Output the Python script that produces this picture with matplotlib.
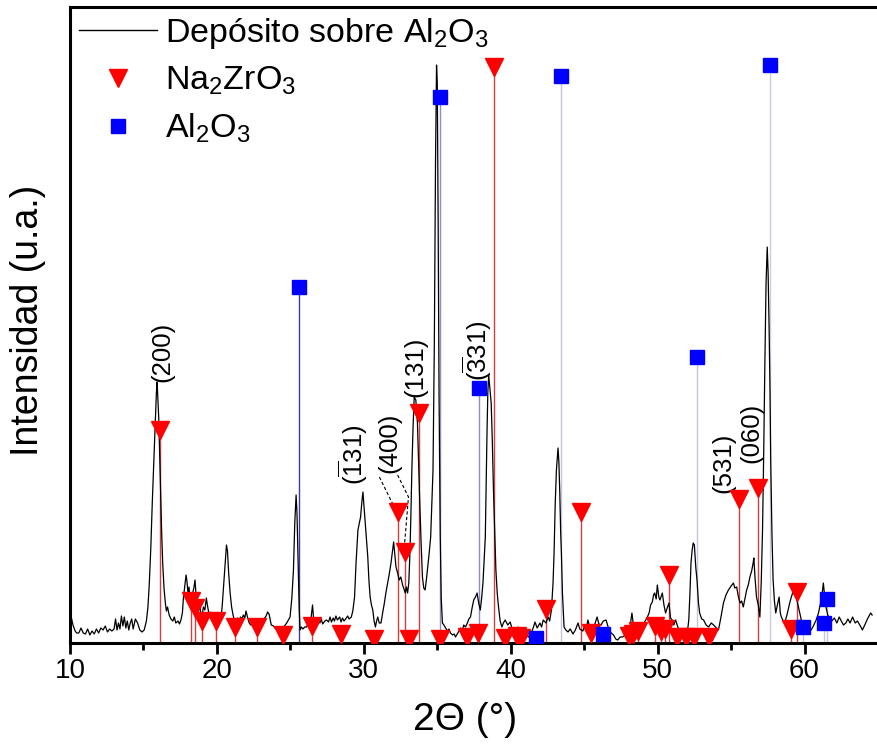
import matplotlib
matplotlib.use("Agg")
import matplotlib.pyplot as plt
from matplotlib.lines import Line2D

plt.rcParams['font.family'] = ['Liberation Sans', 'DejaVu Sans']
plt.rcParams['mathtext.default'] = 'regular'

# ---------------- data (2theta in degrees, intensity in arbitrary units) ----------------
two_theta = [
    10.0, 10.1, 10.2, 10.35, 10.45, 10.6, 10.75, 10.9, 11.05, 11.2, 11.35, 11.5, 11.65, 11.8, 11.95,
    12.1, 12.25, 12.4, 12.55, 12.7, 12.85, 13.0, 13.1, 13.2, 13.3, 13.4, 13.5, 13.6, 13.7, 13.8, 13.9,
    14.0, 14.1, 14.2, 14.3, 14.45, 14.6, 14.75, 14.9, 15.05, 15.2, 15.3, 15.4, 15.5, 15.6, 15.7, 15.8,
    15.88, 15.93, 15.98, 16.04, 16.1, 16.17, 16.24, 16.31, 16.4, 16.49, 16.56, 16.64, 16.75, 16.87,
    17.0, 17.1, 17.2, 17.35, 17.45, 17.55, 17.65, 17.72, 17.8, 17.9, 17.96, 18.03, 18.1, 18.18, 18.27,
    18.35, 18.43, 18.51, 18.58, 18.65, 18.74, 18.82, 18.9, 19.0, 19.08, 19.18, 19.28, 19.35, 19.45,
    19.57, 19.7, 19.8, 19.91, 20.05, 20.15, 20.25, 20.35, 20.47, 20.57, 20.65, 20.72, 20.8, 20.9,
    21.0, 21.1, 21.2, 21.3, 21.4, 21.5, 21.6, 21.7, 21.8, 21.9, 21.98, 22.08, 22.2, 22.3, 22.45, 22.6,
    22.73, 22.85, 23.0, 23.1, 23.2, 23.35, 23.45, 23.55, 23.7, 23.85, 24.0, 24.15, 24.3, 24.45, 24.6,
    24.75, 24.9, 24.98, 25.1, 25.21, 25.3, 25.39, 25.45, 25.54, 25.6, 25.66, 25.75, 25.85, 25.98,
    26.11, 26.2, 26.3, 26.4, 26.51, 26.58, 26.67, 26.8, 26.9, 27.01, 27.1, 27.2, 27.35, 27.46, 27.6,
    27.7, 27.8, 27.91, 28.0, 28.1, 28.2, 28.36, 28.45, 28.55, 28.65, 28.81, 28.9, 29.0, 29.15, 29.25,
    29.37, 29.47, 29.6, 29.7, 29.78, 29.86, 29.94, 30.02, 30.12, 30.2, 30.27, 30.35, 30.43, 30.52,
    30.61, 30.7, 30.79, 30.87, 30.95, 31.05, 31.17, 31.28, 31.4, 31.5, 31.62, 31.72, 31.85, 31.95,
    32.03, 32.11, 32.19, 32.3, 32.41, 32.52, 32.64, 32.73, 32.82, 32.9, 32.98, 33.06, 33.13, 33.2,
    33.27, 33.35, 33.43, 33.54, 33.65, 33.73, 33.81, 33.9, 33.99, 34.08, 34.17, 34.25, 34.33, 34.45,
    34.55, 34.63, 34.71, 34.8, 34.88, 34.95, 35.0, 35.06, 35.12, 35.2, 35.27, 35.35, 35.45, 35.57,
    35.7, 35.8, 35.9, 36.05, 36.15, 36.24, 36.4, 36.58, 36.7, 36.8, 36.92, 37.05, 37.15, 37.26, 37.37,
    37.48, 37.6, 37.71, 37.82, 37.93, 38.02, 38.11, 38.2, 38.27, 38.33, 38.38, 38.44, 38.5, 38.58,
    38.67, 38.75, 38.83, 38.91, 38.99, 39.08, 39.17, 39.28, 39.4, 39.5, 39.62, 39.8, 39.96, 40.1, 40.3,
    40.5, 40.75, 41.0, 41.2, 41.4, 41.55, 41.65, 41.8, 41.99, 42.1, 42.21, 42.4, 42.55, 42.65, 42.77,
    42.88, 42.95, 43.03, 43.11, 43.22, 43.28, 43.34, 43.4, 43.45, 43.52, 43.63, 43.75, 43.9, 44.05,
    44.24, 44.4, 44.58, 44.7, 44.91, 45.05, 45.15, 45.25, 45.38, 45.48, 45.6, 45.75, 45.88, 46.0,
    46.15, 46.3, 46.49, 46.65, 46.83, 47.0, 47.15, 47.28, 47.45, 47.62, 47.8, 47.95, 48.1, 48.25,
    48.35, 48.52, 48.7, 48.86, 49.0, 49.19, 49.3, 49.42, 49.52, 49.64, 49.72, 49.8, 49.9, 49.98,
    50.08, 50.16, 50.25, 50.32, 50.43, 50.54, 50.65, 50.77, 50.88, 50.99, 51.1, 51.22, 51.4, 51.56,
    51.75, 51.9, 52.05, 52.12, 52.2, 52.27, 52.35, 52.42, 52.5, 52.6, 52.68, 52.78, 52.86, 53.0,
    53.13, 53.3, 53.47, 53.65, 53.81, 54.0, 54.14, 54.3, 54.48, 54.65, 54.82, 55.0, 55.16, 55.25,
    55.38, 55.5, 55.61, 55.72, 55.83, 55.95, 56.06, 56.17, 56.28, 56.4, 56.5, 56.55, 56.63, 56.73,
    56.85, 56.96, 57.05, 57.14, 57.22, 57.3, 57.38, 57.46, 57.52, 57.59, 57.65, 57.7, 57.78, 57.86,
    57.95, 58.04, 58.15, 58.27, 58.35, 58.42, 58.55, 58.65, 58.8, 58.99, 59.1, 59.26, 59.38, 59.48,
    59.6, 59.78, 59.95, 60.11, 60.3, 60.45, 60.6, 60.79, 60.95, 61.13, 61.22, 61.28, 61.36, 61.46,
    61.58, 61.69, 61.85, 62.03, 62.2, 62.36, 62.5, 62.65, 62.81, 62.95, 63.1, 63.27, 63.45, 63.6,
    63.8, 63.94, 64.1, 64.28, 64.5, 64.6,
]
intensity = [
    24, 25, 18, 12, 10, 10, 15, 10, 9, 14, 8, 12, 9, 14, 10,
    15, 13, 17, 11, 14, 12, 14, 24, 13, 20, 14, 27, 17, 26, 15, 22,
    13, 20, 24, 14, 24, 20, 13, 11, 13, 22, 35, 60, 95, 140, 180, 220,
    250, 261, 245, 225, 190, 150, 110, 80, 55, 40, 32, 36, 28, 24,
    22, 26, 20, 22, 19, 23, 30, 45, 55, 68, 62, 50, 56, 42, 40,
    50, 55, 63, 48, 45, 35, 40, 30, 28, 36, 33, 45, 38, 30,
    25, 30, 24, 24, 28, 22, 24, 35, 60, 82, 98, 92, 70, 50,
    36, 28, 22, 20, 25, 20, 26, 24, 28, 25, 32, 26, 20, 18, 21, 18,
    20, 17, 23, 20, 24, 27, 31, 29, 18, 17, 14, 16, 13, 15, 17,
    20, 24, 26, 45, 73, 120, 148, 130, 73, 35, 13, 16, 14, 16,
    16, 20, 17, 24, 38, 24, 20, 18, 22, 20, 24, 19, 22, 23, 21,
    26, 21, 25, 22, 27, 23, 26, 21, 25, 22, 25, 27, 24, 26, 32,
    46, 80, 113, 120, 126, 140, 151, 135, 116, 100, 86, 62, 46, 38,
    33, 22, 16, 22, 26, 20, 20, 30, 40, 50, 60, 68, 80, 92,
    101, 88, 76, 70, 63, 66, 58, 54, 50, 56, 50, 60, 86, 125,
    173, 215, 246, 243, 220, 180, 140, 100, 66, 55, 53, 62, 73, 90,
    106, 140, 173, 300, 480, 578, 560, 420, 250, 110, 45, 20, 18, 15,
    12, 14, 10, 8, 9, 6, 10, 15, 12, 18, 16, 20, 24, 26, 35,
    43, 46, 50, 40, 33, 45, 60, 85, 106, 160, 206, 250, 268, 255,
    240, 200, 150, 110, 73, 50, 36, 22, 16, 20, 23, 18, 21, 14, 10,
    16, 12, 9, 6, 10, 16, 21, 15, 20, 16, 23, 20, 26, 22, 33,
    60, 90, 140, 173, 195, 180, 150, 110, 90, 50, 16, 13, 11, 14,
    9, 13, 20, 14, 12, 18, 14, 23, 16, 18, 15, 20, 26, 19,
    18, 22, 23, 15, 10, 8, 4, 3, 6, 6, 8, 10, 14, 30,
    18, 13, 17, 13, 18, 23, 26, 30, 38, 41, 48, 50, 44, 58,
    46, 43, 47, 50, 38, 30, 35, 40, 25, 23, 18, 23, 15, 13,
    10, 9, 14, 23, 50, 80, 93, 100, 98, 75, 63, 40, 30, 24,
    23, 18, 16, 20, 18, 15, 13, 25, 40, 48, 53, 57, 60, 55,
    56, 46, 40, 42, 36, 45, 53, 58, 66, 72, 80, 85, 65, 46,
    38, 26, 60, 113, 190, 280, 360, 396, 370, 313, 250, 180, 110, 63,
    42, 30, 38, 46, 30, 26, 22, 20, 28, 40, 46, 53, 48, 43,
    35, 23, 18, 16, 14, 13, 17, 23, 30, 43, 52, 60, 48, 36,
    28, 25, 22, 25, 20, 26, 22, 18, 20, 24, 20, 26, 20, 22,
    17, 13, 18, 24, 30, 28,
]

na_pos = [16.15, 18.25, 18.5, 19.0, 19.95, 21.25, 22.7, 24.5, 26.45, 28.45, 30.7, 32.35, 32.8, 33.05,
          33.75, 35.2, 37.0, 37.8, 38.85, 39.6, 40.4, 40.7, 42.4, 44.8, 45.45, 48.05, 48.35, 48.65,
          49.8, 50.2, 50.5, 50.75, 51.35, 51.9, 52.45, 53.5, 55.55, 56.85, 59.1, 59.5]
na_int = [213, 42, 35, 22, 22, 16, 16, 8, 17, 9, 4, 131, 91, 4,
          230, 4, 6, 10, 576, 5, 7, 5, 34, 131, 10, 7, 9, 12,
          17, 12, 14, 68, 6, 6, 6, 6, 144, 155, 14, 51]

al_pos = [25.6, 35.2, 37.85, 41.75, 43.45, 46.3, 52.7, 57.65, 59.9, 61.3, 61.5]
al_int = [356, 546, 255, 5, 567, 9, 286, 578, 16, 20, 44]

hkl_labels = ["(200)", r"($\overline{1}$31)", "(400)", "(131)", r"($\overline{3}$31)", "(531)", "(060)"]
hkl_x = [16.28, 29.3, 31.76, 33.51, 37.75, 54.46, 56.35]
hkl_y = [291, 188, 200, 276, 292, 180, 210]

legend_labels = [r"Depósito sobre Al$_2$O$_3$", r"Na$_2$ZrO$_3$", r"Al$_2$O$_3$"]

# ---------------- styling ----------------
al_line_colors = ['#3a3a9a', '#8c8cc8', '#8c8cc8', '#b8b8dc', '#c4c4dc', '#c4c4dc',
                  '#c4c4dc', '#ccccdf', '#c4c4dc', '#c4c4dc', '#c4c4dc']

fig = plt.figure(figsize=(8.78, 7.49), dpi=100)
ax = fig.add_axes([70 / 878, 106 / 749, 808 / 878, 636 / 749])

ax.vlines(na_pos, 0, na_int, colors='#d04040', linewidth=1.0, zorder=2)
ax.vlines(al_pos, 0, al_int, colors=al_line_colors, linewidth=1.0, zorder=2)
ax.plot(two_theta, intensity, color='black', linewidth=0.9, zorder=3)
ax.plot(na_pos, na_int, linestyle='none', marker='v', color='#ff0000', markersize=13, zorder=4)
ax.plot(al_pos, al_int, linestyle='none', marker='s', color='#0000ff', markersize=10, zorder=4)

for lab, xx, yy in zip(hkl_labels, hkl_x, hkl_y):
    ax.text(xx, yy, lab, rotation=90, ha='center', va='center', fontsize=18.5)

# dashed connectors for the (-131) and (400) labels
ax.plot([31.06, 32.07], [166, 136], color='black', linestyle=(0, (3, 2)), linewidth=0.8, zorder=3)
ax.plot([32.3, 33.04, 32.75], [168, 146, 95], color='black', linestyle=(0, (3, 2)), linewidth=0.8, zorder=3)

ax.set_xlim(10, 10 + 808 / 14.8)
ax.set_ylim(0, 636)
ax.set_xticks([10, 20, 30, 40, 50, 60])
ax.set_xticks([15, 25, 35, 45, 55, 65], minor=True)
ax.set_yticks([])
ax.tick_params(axis='x', which='major', direction='out', length=8, width=2, labelsize=20, pad=3)
ax.tick_params(axis='x', which='minor', direction='out', length=5, width=2)
for side in ['left', 'bottom', 'top']:
    ax.spines[side].set_linewidth(2.2)
ax.spines['right'].set_visible(False)

fig.text(28 / 878, 1 - 320 / 749, 'Intensidad (u.a.)', rotation=90, ha='center', va='center', fontsize=27)
fig.text(465 / 878, 1 - 720 / 749, '2Θ (°)', ha='center', va='center', fontsize=28)

handles = [Line2D([], [], color='black', linewidth=1.0),
           Line2D([], [], linestyle='none', marker='v', color='#ff0000', markersize=13),
           Line2D([], [], linestyle='none', marker='s', color='#0000ff', markersize=10)]
ax.legend(handles, legend_labels, loc='upper left', frameon=False, fontsize=24.5,
          handlelength=2.3, handletextpad=0.25, labelspacing=0.42, borderaxespad=0.1, borderpad=0.15)

fig.savefig('out.png', dpi=100)
